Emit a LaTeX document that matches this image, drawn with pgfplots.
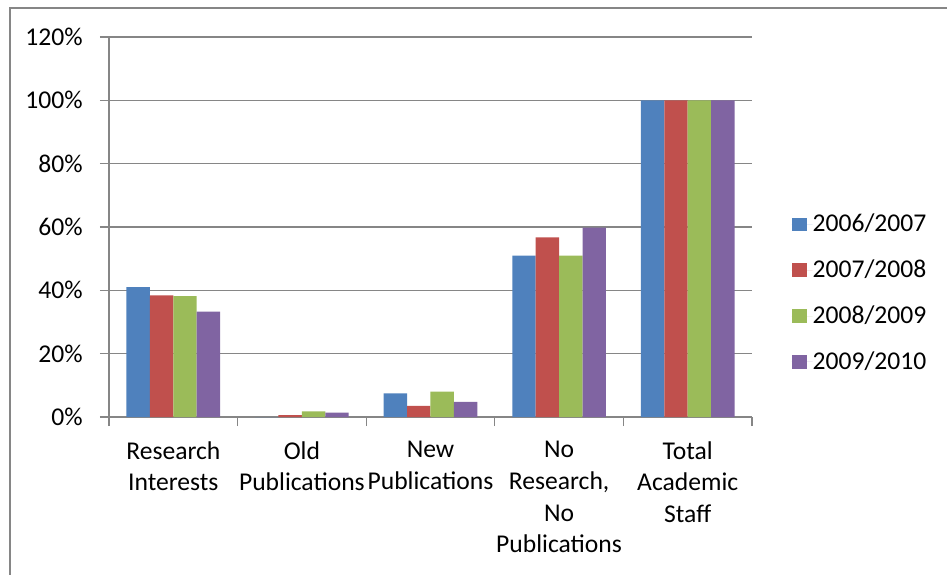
\documentclass[border=0pt]{standalone}
\usepackage{pgfplots}
\pgfplotsset{compat=1.18}
\usepackage{fontspec}
\setmainfont{Carlito}

\definecolor{xlblue}{HTML}{4F81BD}
\definecolor{xlred}{HTML}{C0504D}
\definecolor{xlgreen}{HTML}{9BBB59}
\definecolor{xlpurple}{HTML}{8064A2}
\definecolor{xlgray}{HTML}{868686}

\begin{document}
\begin{tikzpicture}
\useasboundingbox (-54.5pt,-78.5pt) rectangle (419pt,208.5pt);
% chart area border (right and bottom edges fall outside the picture)
\draw[xlgray, line width=0.6pt] (-49.5pt,-100pt) -- (-49.5pt,204.5pt) -- (440pt,204.5pt);
\begin{axis}[
    at={(0,0)}, anchor=south west,
    scale only axis,
    width=321.5pt, height=190pt,
    font=\fontsize{12.8}{15.8}\selectfont,
    ybar=0pt,
    bar width=0.182,
    xmin=-0.5, xmax=4.5,
    ymin=0, ymax=120,
    axis x line=bottom, axis y line=left,
    axis line style={xlgray, line width=0.6pt, -},
    xtick={0,1,2,3,4},
    xticklabels={{Research\\Interests}, {Old\\Publications}, {New\\Publications}, {No\\Research,\\No\\Publications}, {Total\\Academic\\Staff}},
    xticklabel style={align=center, anchor=north, inner sep=0pt, yshift=-7.5pt},
    major x tick style={draw=none},
    minor xtick={-0.5,0.5,1.5,2.5,3.5,4.5},
    minor x tick style={xlgray, line width=0.6pt},
    minor tick length=4.5pt,
    ytick={0,20,40,60,80,100,120},
    yticklabels={0\%,20\%,40\%,60\%,80\%,100\%,120\%},
    yticklabel style={anchor=east, inner sep=0pt, xshift=-8.5pt},
    y tick style={xlgray, line width=0.6pt},
    major tick length=4.5pt,
    tick align=outside,
    ymajorgrids,
    grid style={xlgray, line width=0.6pt},
    legend style={at={(1.0617,0.326)}, anchor=west, draw=none, fill=none,
        inner sep=0pt, outer sep=0pt, row sep=12.5pt,
        nodes={inner sep=0pt, anchor=west}},
    legend cell align=left,
    legend image code/.code={%
        \fill[#1, draw=none] (0pt,-3.4pt) rectangle (7.5pt,3.4pt);
        \path (0pt,0pt) -- (10.5pt,0pt);},
]
\addplot[fill=xlblue, draw=none] coordinates {(0,41.0) (1,0) (2,7.5) (3,51.0) (4,100)};
\addplot[fill=xlred, draw=none] coordinates {(0,38.4) (1,0.6) (2,3.5) (3,56.7) (4,100)};
\addplot[fill=xlgreen, draw=none] coordinates {(0,38.2) (1,1.8) (2,8.0) (3,51.0) (4,100)};
\addplot[fill=xlpurple, draw=none] coordinates {(0,33.3) (1,1.4) (2,4.8) (3,59.8) (4,100)};
\legend{2006/2007,2007/2008,2008/2009,2009/2010}
\end{axis}
\end{tikzpicture}
\end{document}
